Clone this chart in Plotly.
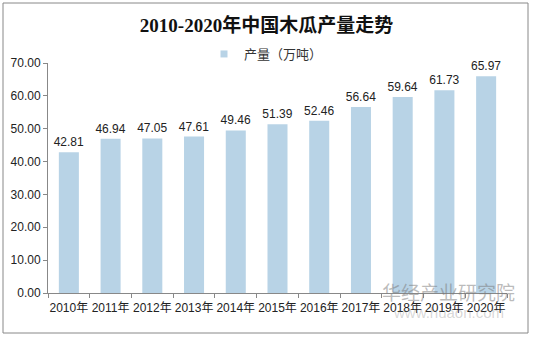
import plotly.graph_objects as go

years = ["2010年", "2011年", "2012年", "2013年", "2014年", "2015年",
         "2016年", "2017年", "2018年", "2019年", "2020年"]
output = [42.81, 46.94, 47.05, 47.61, 49.46, 51.39, 52.46, 56.64, 59.64, 61.73, 65.97]
y_ticks = [0, 10, 20, 30, 40, 50, 60, 70]

sans = "Liberation Sans, Arial, Noto Sans CJK SC, sans-serif"
serif = "Liberation Serif, Times New Roman, Noto Sans CJK SC, serif"
bar_color = "#B8D3E6"

# plot area in pixels
L, R, T, B = 48, 26, 63, 44
W, H = 533, 337
pw, ph = W - L - R, H - T - B


def px_x(px):
    return (px - L) / pw


def px_y(py):
    return (H - B - py) / ph


fig = go.Figure()
fig.add_trace(go.Bar(
    x=years, y=output, name="产量（万吨）", showlegend=False,
    marker=dict(color=bar_color, line=dict(width=0)),
    width=0.48,
    text=[f"{v:.2f}" for v in output], textposition="outside",
    constraintext="none",
    textfont=dict(family=sans, size=12, color="#222222"),
    cliponaxis=False,
))
# legend entry with a small square key
fig.add_trace(go.Scatter(
    x=[None], y=[None], mode="markers", name="产量（万吨）",
    marker=dict(symbol="square", size=7, color=bar_color),
))

fig.update_layout(
    width=W, height=H,
    margin=dict(l=L, r=R, t=T, b=B, autoexpand=False),
    paper_bgcolor="white", plot_bgcolor="white",
    title=dict(text="<b>2010-2020年中国木瓜产量走势</b>",
               font=dict(family=serif, size=19, color="#111111"),
               x=0.5, xanchor="center", y=1 - 25 / H, yanchor="middle"),
    showlegend=True,
    legend=dict(orientation="h", x=px_x(266), xanchor="center", y=px_y(54), yanchor="middle",
                font=dict(family=sans, size=13, color="#333333"),
                itemwidth=30, bgcolor="rgba(0,0,0,0)"),
    xaxis=dict(type="category", showline=True, linecolor="#888888", linewidth=1,
               ticks="outside", tickson="boundaries", ticklen=4, tickcolor="#888888",
               tickangle=0, ticklabelstandoff=4,
               tickfont=dict(family=sans, size=12, color="#222222"), showgrid=False),
    yaxis=dict(range=[0, 70], tickvals=y_ticks, tickformat=".2f",
               showline=True, linecolor="#888888", linewidth=1,
               ticks="outside", ticklen=4, tickcolor="#888888",
               tickfont=dict(family=sans, size=12, color="#222222"),
               showgrid=False, zeroline=False),
    shapes=[dict(type="rect", xref="paper", yref="paper",
                 x0=px_x(3), x1=px_x(528), y0=px_y(333), y1=px_y(3),
                 line=dict(color="#888888", width=1), fillcolor="rgba(0,0,0,0)",
                 layer="below")],
    annotations=[
        dict(text="华经产业研究院", xref="paper", yref="paper",
             x=px_x(448), y=px_y(291), xanchor="center", yanchor="middle",
             showarrow=False, font=dict(family="Noto Sans CJK SC", size=19,
                                        color="rgba(120,120,120,0.5)")),
        dict(text="www.huaon.com", xref="paper", yref="paper",
             x=px_x(448), y=px_y(312), xanchor="center", yanchor="middle",
             showarrow=False, font=dict(family=sans, size=15,
                                        color="rgba(120,120,120,0.3)")),
    ],
)

fig.write_html("out.html")
